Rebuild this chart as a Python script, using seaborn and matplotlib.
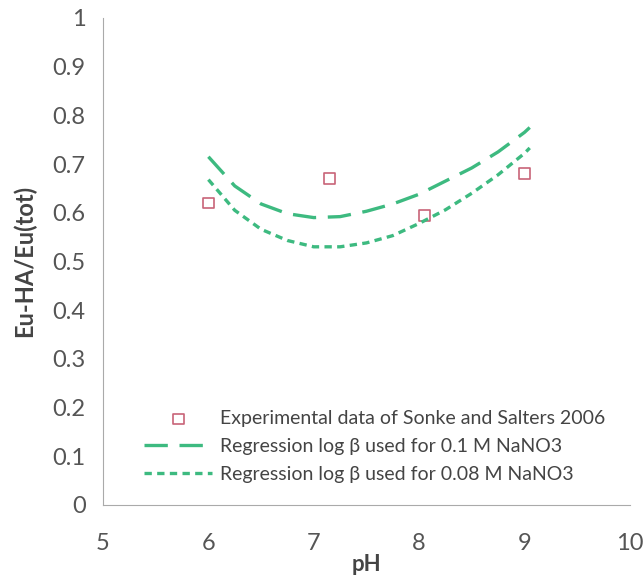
import matplotlib
matplotlib.use('Agg')
import numpy as np
import pandas as pd
import matplotlib.pyplot as plt
import seaborn as sns

# experimental points
exp_ph = [6.0, 7.15, 8.05, 9.0]
exp_frac = [0.62, 0.67, 0.595, 0.68]

# regression curves
curve_ph = [6.0, 6.25, 6.5, 6.75, 7.0, 7.25, 7.5, 7.75, 8.0, 8.25, 8.5, 8.75, 9.0, 9.05]
frac_01 = [0.715, 0.655, 0.618, 0.598, 0.590, 0.592, 0.603, 0.618, 0.638, 0.665, 0.692, 0.725, 0.765, 0.775]
frac_008 = [0.668, 0.605, 0.566, 0.543, 0.530, 0.530, 0.538, 0.553, 0.578, 0.606, 0.640, 0.678, 0.722, 0.733]

x_ticks = [5, 6, 7, 8, 9, 10]
y_ticks = [0, 0.1, 0.2, 0.3, 0.4, 0.5, 0.6, 0.7, 0.8, 0.9, 1]

sns.set_style('white')
plt.rcParams['font.family'] = ['Lato', 'DejaVu Sans']

GREEN = '#3dba80'
RED = '#c86478'
GREY = '#555555'

df_exp = pd.DataFrame({'pH': exp_ph, 'frac': exp_frac})
df_curves = pd.DataFrame({'pH': curve_ph, 'a': frac_01, 'b': frac_008})

fig = plt.figure(figsize=(6.44, 5.79), dpi=100)
ax = fig.add_axes([0.16, 0.128, 0.818, 0.841])

sns.scatterplot(data=df_exp, x='pH', y='frac', ax=ax, marker='s', s=60,
                facecolor='none', edgecolor=RED, linewidth=1.2,
                label='Experimental data of Sonke and Salters 2006')
sns.lineplot(data=df_curves, x='pH', y='a', ax=ax, color=GREEN, linewidth=2.4,
             dashes=False, label='Regression log \u03b2 used for 0.1 M NaNO3')
sns.lineplot(data=df_curves, x='pH', y='b', ax=ax, color=GREEN, linewidth=2.4,
             dashes=False, label='Regression log \u03b2 used for 0.08 M NaNO3')
ax.lines[0].set_dashes([7, 3.5])
ax.lines[1].set_dashes([2.2, 1.6])

ax.set_xlim(5, 10)
ax.set_ylim(0, 1)
ax.set_xticks(x_ticks)
ax.set_yticks(y_ticks)
ax.set_xticklabels([str(t) for t in x_ticks])
ax.set_yticklabels(['0', '0.1', '0.2', '0.3', '0.4', '0.5', '0.6', '0.7', '0.8', '0.9', '1'])
ax.tick_params(axis='both', labelsize=17, labelcolor=GREY, color='#999999',
               length=5, width=0.8)
ax.tick_params(axis='y', direction='inout', pad=10)
ax.tick_params(axis='x', direction='in', pad=20)

for side in ['top', 'right']:
    ax.spines[side].set_visible(False)
for side in ['left', 'bottom']:
    ax.spines[side].set_color('#aaaaaa')
    ax.spines[side].set_linewidth(0.8)

ax.set_xlabel('pH', fontsize=16, fontweight='bold', color='#444444', labelpad=0)
ax.set_ylabel('Eu-HA/Eu(tot)', fontsize=17, fontweight='bold', color='#444444', labelpad=12)

leg = ax.legend(loc='lower left', bbox_to_anchor=(0.045, 0.01), frameon=False,
                fontsize=14, handlelength=3.5, handletextpad=0.4,
                labelspacing=0.55, labelcolor='#444444')

plt.savefig('out.png', dpi=100)
plt.close()
